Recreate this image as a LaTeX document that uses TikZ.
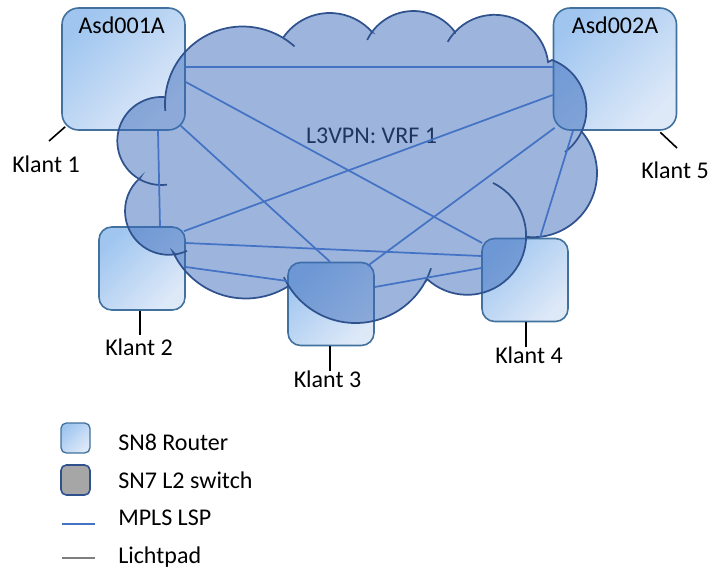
\documentclass[tikz,border=0pt]{standalone}
\usepackage{fontspec}
\setmainfont{Carlito}
\usetikzlibrary{calc}
\definecolor{routerA}{RGB}{160,198,240}
\definecolor{routerB}{RGB}{222,233,248}
\definecolor{routerline}{RGB}{65,113,156}
\definecolor{cloudfill}{RGB}{59,107,187}
\definecolor{cloudline}{RGB}{47,82,143}
\definecolor{lspblue}{RGB}{68,114,196}
\definecolor{lichtgray}{RGB}{127,127,127}
\definecolor{switchfill}{RGB}{166,166,166}
\definecolor{vrftext}{RGB}{30,54,94}
\begin{document}
\begin{tikzpicture}[x=0.75pt,y=-0.75pt,
  every node/.style={font=\fontsize{18}{22}\selectfont, inner sep=0pt},
  router/.style={draw=routerline, line width=1.2pt, rounded corners=#1,
    top color=routerA, bottom color=routerB, shading angle=45},
  router/.default=10pt,
  bigrouter/.style={router=12.5pt, minimum width=92.25pt, minimum height=91.5pt},
  klantrouter/.style={router=9.5pt, minimum width=64.5pt, minimum height=62.25pt},
  switchbox/.style={draw=cloudline, line width=1.2pt, rounded corners=4pt, fill=switchfill},
  cloudedge/.style={draw=cloudline, line width=1.3pt},
  lsp/.style={draw=lspblue, line width=1.3pt},
  lichtpad/.style={draw=lichtgray, line width=1.3pt},
  klantline/.style={draw=black, line width=1.2pt},
  lbl/.style={anchor=base, text=black},
  leg/.style={anchor=base west, text=black}]
\useasboundingbox (0,0) rectangle (712,572);

% routers
\node[bigrouter] (a1) at (123.5,69) {};
\node[bigrouter] (a2) at (615,69) {};
\node[klantrouter] (k2) at (142,268.5) {};
\node[klantrouter] (k3) at (331,304) {};
\node[klantrouter] (k4) at (525,280) {};

% VPN cloud: one closed outline made of circular puffs
\path[fill=cloudfill, fill opacity=0.5, cloudedge]
  ([shift={(185.1:77.6)}]242.6,104.1) arc[start angle=185.1, end angle=301.4, radius=77.6]
  -- ([shift={(213.9:56.4)}]329.8,69.4) arc[start angle=213.9, end angle=318.5, radius=56.4]
  -- ([shift={(216.3:51.5)}]413.5,62.5) arc[start angle=216.3, end angle=323.7, radius=51.5]
  -- ([shift={(223:54)}]494.5,68.8) arc[start angle=223, end angle=352.8, radius=54]
  -- ([shift={(290.4:52.8)}]533.6,109.5) arc[start angle=290.4, end angle=384.9, radius=52.8]
  -- ([shift={(319.9:64)}]533,173.2) arc[start angle=319.9, end angle=455.4, radius=64]
  -- ([shift={(1:58.9)}]467.2,235.9) arc[start angle=1, end angle=132.5, radius=58.9]
  -- ([shift={(28.9:79.2)}]355.7,243.8) arc[start angle=28.9, end angle=146.1, radius=79.2]
  -- ([shift={(57.5:80)}]245.7,218.5) arc[start angle=57.5, end angle=155, radius=80]
  -- ([shift={(81.6:43.8)}]168.8,211) arc[start angle=81.6, end angle=228.9, radius=43.8]
  -- ([shift={(120:44)}]161.3,141) arc[start angle=120, end angle=275.2, radius=44]
  -- cycle;

% inner ends of the puffs
\draw[cloudedge] ([shift={(175:77.6)}]242.6,104.1) arc[start angle=175, end angle=185.1, radius=77.6];
\draw[cloudedge] ([shift={(301.4:77.6)}]242.6,104.1) arc[start angle=301.4, end angle=312, radius=77.6];
\draw[cloudedge] ([shift={(206:51.5)}]413.5,62.5) arc[start angle=206, end angle=216.3, radius=51.5];
\draw[cloudedge] ([shift={(210:54)}]494.5,68.8) arc[start angle=210, end angle=223, radius=54];
\draw[cloudedge] ([shift={(384.9:52.8)}]533.6,109.5) arc[start angle=384.9, end angle=413.5, radius=52.8];
\draw[cloudedge] ([shift={(-64:58.9)}]467.2,235.9) arc[start angle=-64, end angle=1, radius=58.9];
\draw[cloudedge] ([shift={(18:79.2)}]355.7,243.8) arc[start angle=18, end angle=28.9, radius=79.2];
\draw[cloudedge] ([shift={(146.1:79.2)}]355.7,243.8) arc[start angle=146.1, end angle=155, radius=79.2];
\draw[cloudedge] ([shift={(65.5:43.8)}]168.8,211) arc[start angle=65.5, end angle=81.6, radius=43.8];
\draw[cloudedge] ([shift={(82.6:44)}]161.3,141) arc[start angle=82.6, end angle=120, radius=44];

\node[text=vrftext, anchor=base] (vrf) at (371.5,143) {L3VPN: VRF 1};

% MPLS label switched paths
\draw[lsp] ($(a1.east)+(0,-2)$) -- ($(a2.west)+(0,-2)$);
\draw[lsp] ($(a1.east)+(0,13)$) -- ($(k4.west)+(1,-37)$);
\draw[lsp] ($(a1.south east)+(-5,-5)$) -- ($(k3.north)+(-1,0)$);
\draw[lsp] ($(a1.south)+(34.5,0)$) -- ($(k2.north)+(18,0)$);
\draw[lsp] ($(k2.north east)+(-2,5)$) -- ($(a2.west)+(0,26)$);
\draw[lsp] ($(k2.east)+(0,-25.5)$) -- ($(k4.west)+(0,-24)$);
\draw[lsp] ($(k2.east)+(0,-1.5)$) -- ($(k3.west)+(0,-23)$);
\draw[lsp] ($(k3.north east)+(-7,4)$) -- ($(a2.south west)+(2,-3)$);
\draw[lsp] ($(k3.east)+(0,-17)$) -- ($(k4.west)+(0,-12)$);
\draw[lsp] ($(k4.north)+(15,0)$) -- ($(a2.south)+(-42,0)$);

% router names
\node[lbl] (a1t) at (121.7,33) {Asd001A};
\node[lbl] (a2t) at (615,33) {Asd002A};

% customer labels
\node[lbl] (kl1) at (46,172) {Klant 1};
\node[lbl] (kl5) at (675,178) {Klant 5};
\node[lbl] (kl2) at (139,355) {Klant 2};
\node[lbl] (kl3) at (327.5,387) {Klant 3};
\node[lbl] (kl4) at (529,363) {Klant 4};
\draw[klantline] ($(a1.south west)+(4,-4)$) -- ($(kl1.base)+(3,-31)$);
\draw[klantline] ($(a2.south east)+(-17,1.5)$) -- ($(kl5.base)+(2,-30)$);
\draw[klantline] ($(k2.south)+(-2,0)$) -- ($(kl2.base)+(1,-20)$);
\draw[klantline] ($(k3.south)+(-1,0)$) -- ($(kl3.base)+(2.5,-16)$);
\draw[klantline] ($(k4.south)+(1,0)$) -- ($(kl4.base)+(-3,-16)$);

% legend
\node[router=4pt, line width=1pt, minimum width=21.75pt, minimum height=22.5pt] (lgr) at (75.5,438) {};
\node[switchbox, minimum width=21.75pt, minimum height=22.5pt] (lgs) at (75.5,480) {};
\coordinate (lgmA) at (62,524);
\coordinate (lgmB) at (95,524);
\coordinate (lgpA) at (62,558);
\coordinate (lgpB) at (95,558);
\draw[lsp] (lgmA) -- (lgmB);
\draw[lichtpad] (lgpA) -- (lgpB);
\node[leg] (lgrt) at (118,450) {SN8 Router};
\node[leg] (lgst) at (118,488) {SN7 L2 switch};
\node[leg] (lgmt) at (118,525) {MPLS LSP};
\node[leg] (lgpt) at (118,563) {Lichtpad};
\end{tikzpicture}
\end{document}
